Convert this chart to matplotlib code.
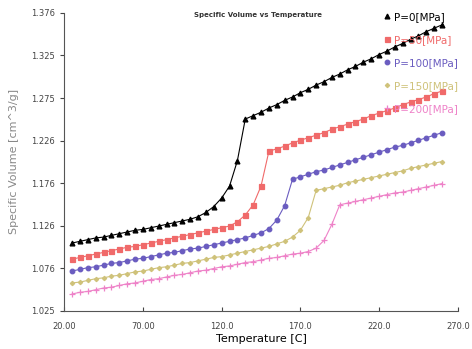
"""
Specific volume vs temperature (PVT curves) for several pressures.
"""
import matplotlib
matplotlib.use('Agg')
import matplotlib.pyplot as plt

temps = [25, 30, 35, 40, 45, 50, 55, 60, 65, 70, 75, 80, 85, 90, 95, 100,
         105, 110, 115, 120, 125, 130, 135, 140, 145, 150, 155, 160, 165, 170,
         175, 180, 185, 190, 195, 200, 205, 210, 215, 220, 225, 230, 235, 240,
         245, 250, 255, 260]

p0 = [1.105, 1.107, 1.109, 1.111, 1.112, 1.114, 1.116, 1.118, 1.120, 1.121,
      1.123, 1.125, 1.127, 1.129, 1.131, 1.133, 1.136, 1.141, 1.148, 1.158,
      1.172, 1.202, 1.251, 1.255, 1.259, 1.264, 1.268, 1.273, 1.277, 1.282,
      1.286, 1.291, 1.295, 1.300, 1.304, 1.309, 1.313, 1.318, 1.322, 1.327,
      1.331, 1.336, 1.340, 1.345, 1.349, 1.354, 1.358, 1.362]

p50 = [1.086, 1.088, 1.090, 1.092, 1.094, 1.096, 1.098, 1.100, 1.101, 1.103,
       1.105, 1.107, 1.109, 1.111, 1.113, 1.115, 1.117, 1.119, 1.121, 1.123,
       1.125, 1.130, 1.138, 1.150, 1.172, 1.213, 1.216, 1.219, 1.223, 1.226,
       1.229, 1.232, 1.235, 1.239, 1.242, 1.245, 1.248, 1.251, 1.255, 1.258,
       1.261, 1.264, 1.268, 1.271, 1.274, 1.277, 1.281, 1.284]

p100 = [1.072, 1.074, 1.076, 1.077, 1.079, 1.081, 1.082, 1.084, 1.086, 1.087,
        1.089, 1.091, 1.093, 1.094, 1.096, 1.098, 1.099, 1.101, 1.103, 1.105,
        1.107, 1.109, 1.111, 1.114, 1.117, 1.122, 1.132, 1.149, 1.180, 1.183,
        1.186, 1.189, 1.191, 1.194, 1.197, 1.200, 1.203, 1.206, 1.209, 1.212,
        1.215, 1.218, 1.220, 1.223, 1.226, 1.229, 1.232, 1.235]

p150 = [1.058, 1.059, 1.061, 1.063, 1.064, 1.066, 1.067, 1.069, 1.071, 1.072,
        1.074, 1.076, 1.077, 1.079, 1.081, 1.082, 1.084, 1.086, 1.088, 1.089,
        1.091, 1.093, 1.095, 1.097, 1.099, 1.101, 1.104, 1.107, 1.112, 1.120,
        1.135, 1.167, 1.169, 1.171, 1.173, 1.176, 1.178, 1.180, 1.182, 1.184,
        1.186, 1.188, 1.190, 1.193, 1.195, 1.197, 1.199, 1.201]

p200 = [1.045, 1.047, 1.048, 1.050, 1.052, 1.053, 1.055, 1.057, 1.058, 1.060,
        1.062, 1.063, 1.065, 1.067, 1.068, 1.070, 1.072, 1.073, 1.075, 1.077,
        1.078, 1.080, 1.082, 1.083, 1.085, 1.087, 1.088, 1.090, 1.092, 1.093,
        1.095, 1.099, 1.108, 1.127, 1.150, 1.152, 1.154, 1.156, 1.158, 1.160,
        1.162, 1.164, 1.165, 1.167, 1.169, 1.171, 1.173, 1.175]

labels = ['P=0[MPa]', 'P=50[MPa]', 'P=100[MPa]', 'P=150[MPa]', 'P=200[MPa]']

xticks = [20, 70, 120, 170, 220, 270]
xtick_labels = ['20.00', '70.00', '120.0', '170.0', '220.0', '270.0']
yticks = [1.025, 1.0751, 1.1253, 1.1754, 1.2256, 1.2757, 1.3259, 1.376]
ytick_labels = ['1.025', '1.076', '1.126', '1.176', '1.226', '1.275', '1.325', '1.376']

fig = plt.figure(figsize=(4.72, 3.49), dpi=100)
ax = fig.add_axes([0.136, 0.109, 0.834, 0.854])

series = [
    (p0, '#000000', '^', 3.5),
    (p50, '#f06a6a', 's', 3.6),
    (p100, '#6a5cc0', 'o', 3.3),
    (p150, '#cfc27a', 'D', 2.2),
    (p200, '#ee82c8', '+', 4.0),
]
for (vals, col, mk, ms), lab in zip(series, labels):
    ax.plot(temps, vals, color=col, lw=0.8, marker=mk, ms=ms,
            mew=0.9, label=lab)

ax.set_xlim(20, 270)
ax.set_ylim(1.025, 1.376)
ax.set_xticks(xticks)
ax.set_xticklabels(xtick_labels)
ax.set_yticks(yticks)
ax.set_yticklabels(ytick_labels)
ax.tick_params(axis='x', direction='in', length=3, labelsize=6, colors='#444444', pad=8)
ax.tick_params(axis='y', direction='out', length=3, labelsize=6, colors='#444444')

for s in ['top', 'right']:
    ax.spines[s].set_visible(False)
for s in ['left', 'bottom']:
    ax.spines[s].set_color('#555555')
    ax.spines[s].set_linewidth(0.8)

ax.set_xlabel('Temperature [C]', fontsize=8, labelpad=2)
ax.set_ylabel('Specific Volume [cm^3/g]', fontsize=8, color='#888888', labelpad=9)

fig.text(0.547, 0.957, 'Specific Volume vs Temperature', fontsize=5, fontweight='bold',
         ha='center', va='center', color='#333333')

leg = ax.legend(loc='upper left', bbox_to_anchor=(0.805, 0.978),
                bbox_transform=fig.transFigure, frameon=False, fontsize=7.5,
                handlelength=0.6, handletextpad=0.3, labelspacing=1.25,
                labelcolor='linecolor', borderaxespad=0)
for h in leg.legend_handles:
    h.set_linestyle('None')

fig.savefig('out.png', dpi=100)
